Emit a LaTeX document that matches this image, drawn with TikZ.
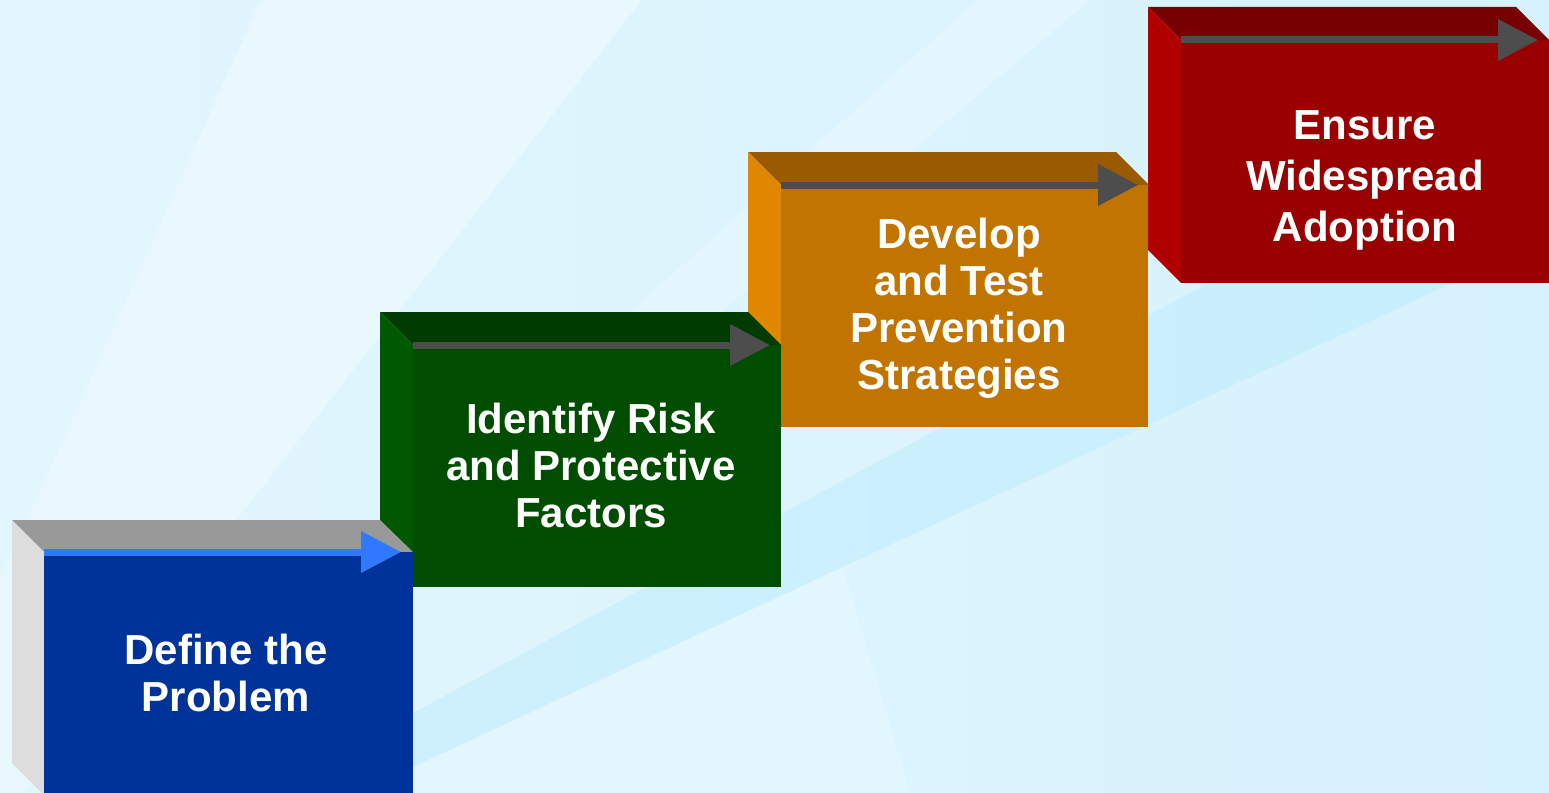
\documentclass[tikz,border=0pt]{standalone}
\usepackage{fontspec}
\setmainfont{Liberation Sans}
\usetikzlibrary{arrows.meta}
\definecolor{bgleft}{HTML}{E2F6FD}
\definecolor{bgright}{HTML}{D6F2FD}
\definecolor{bglight}{HTML}{E9F8FE}
\definecolor{bgband}{HTML}{C7EFFD}
\definecolor{arrowgray}{HTML}{4D4D4D}
\definecolor{bluefront}{HTML}{003399}
\definecolor{bluetop}{HTML}{999999}
\definecolor{blueside}{HTML}{DDDDDD}
\definecolor{bluearrow}{HTML}{3079FF}
\definecolor{greenfront}{HTML}{004D00}
\definecolor{greentop}{HTML}{003B00}
\definecolor{greenside}{HTML}{005800}
\definecolor{orangefront}{HTML}{C17500}
\definecolor{orangetop}{HTML}{995A00}
\definecolor{orangeside}{HTML}{E08700}
\definecolor{redfront}{HTML}{990000}
\definecolor{redtop}{HTML}{770000}
\definecolor{redside}{HTML}{B00000}

\begin{document}
\begin{tikzpicture}[x=1pt,y=-1pt,
		steptext/.style={text=white,align=center,inner sep=0pt,font=\bfseries\fontsize{42}{47}\selectfont},
		steparrow/.style={draw=arrowgray,line width=7pt,-{Triangle[length=40pt,width=40pt]}}]
	\useasboundingbox (0,0) rectangle (1549,792);
	\shade[left color=bgleft,right color=bgright] (0,0) rectangle (1549,792);
	\fill[bglight] (261,0) -- (642,0) -- (24,792) -- (0,792) -- (0,580) -- cycle;
	\fill[bglight,opacity=0.6] (977,0) -- (1090,0) -- (712,320) -- (622,320) -- cycle;
	\fill[bglight,opacity=0.5] (413,767) -- (843,567) -- (910,792) -- (413,792) -- cycle;
	\shade[left color=bgright!50!bgband,right color=bgband] (413,713) -- (1549,99) -- (1549,238) -- (413,767) -- cycle;

	\coordinate (step_4) at (1181,40);
	\coordinate (tip_4) at (1538,40);
	\fill[redtop] (step_4) -- ++(-33,-33) -- ++(368,0) -- ++(33,33) -- cycle;
	\fill[redside] (step_4) -- ++(-33,-33) -- ++(0,243) -- ++(33,33) -- cycle;
	\fill[redfront] (step_4) rectangle ++(368,243);
	\draw[steparrow] (step_4) -- (tip_4);
	\node[steptext,font=\bfseries\fontsize{42}{51}\selectfont] (ensure) at (1365,180) {Ensure\\Widespread\\Adoption};

	\coordinate (step_3) at (781,185);
	\coordinate (tip_3) at (1138,185);
	\fill[orangetop] (step_3) -- ++(-33,-33) -- ++(368,0) -- ++(33,33) -- cycle;
	\fill[orangeside] (step_3) -- ++(-33,-33) -- ++(0,242) -- ++(33,33) -- cycle;
	\fill[orangefront] (step_3) rectangle ++(367,242);
	\draw[steparrow] (step_3) -- (tip_3);
	\node[steptext] (develop) at (959,308) {Develop\\and Test\\Prevention\\Strategies};

	\coordinate (step_2) at (413,345);
	\coordinate (tip_2) at (770,345);
	\fill[greentop] (step_2) -- ++(-33,-33) -- ++(368,0) -- ++(33,33) -- cycle;
	\fill[greenside] (step_2) -- ++(-33,-33) -- ++(0,242) -- ++(33,33) -- cycle;
	\fill[greenfront] (step_2) rectangle ++(368,242);
	\draw[steparrow] (step_2) -- (tip_2);
	\node[steptext] (identify) at (591,465) {Identify Risk\\and Protective\\Factors};

	\coordinate (step_1) at (44,552);
	\coordinate (tip_1) at (401,552);
	\fill[bluetop] (step_1) -- ++(-32,-32) -- ++(368,0) -- ++(33,32) -- cycle;
	\fill[blueside] (step_1) -- ++(-32,-32) -- ++(0,243) -- ++(32,32) -- cycle;
	\fill[bluefront] (step_1) rectangle ++(369,243);
	\draw[steparrow,draw=bluearrow] (step_1) -- (tip_1);
	\node[steptext] (define) at (226,673) {Define the\\Problem};
\end{tikzpicture}
\end{document}
